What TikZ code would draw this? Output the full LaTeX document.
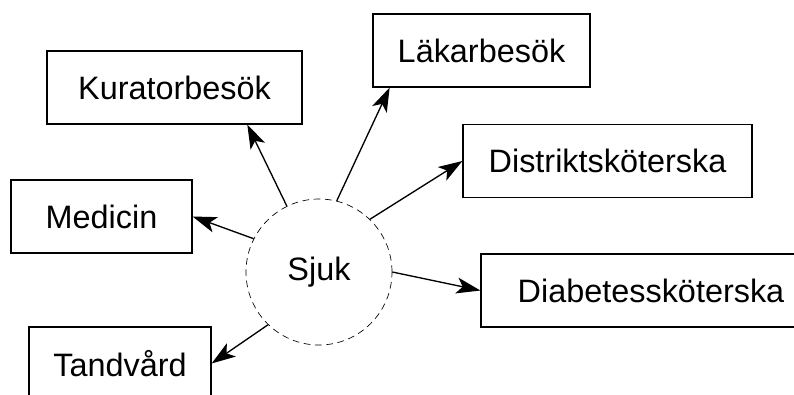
\documentclass[tikz,border=0pt]{standalone}
\usepackage{fontspec}
\setmainfont{Liberation Sans}
\usetikzlibrary{arrows.meta}
\begin{document}
\begin{tikzpicture}[x=0.75pt,y=-0.75pt,
  box/.style={draw, line width=0.9pt, minimum height=54.75pt, inner sep=0pt,
    font=\fontsize{24.3}{28}\selectfont},
  hub/.style={draw, circle, dashed, dash pattern=on 5pt off 3.5pt, line width=0.5pt,
    minimum size=109.5pt, inner sep=0pt, font=\fontsize{24.3}{28}\selectfont},
  link/.style={line width=1pt, -{Stealth[length=18pt, width=12pt, inset=4.5pt]}}]
  \useasboundingbox (0,0) rectangle (794,394);
  \clip (0,0) rectangle (794,394);

  % central state
  \node[hub] (sjuk) at (319,272) {Sjuk};

  % destinations
  \node[box, minimum width=162.75pt] (lak) at (481.5,50.5) {Läkarbesök};
  \node[box, minimum width=191.25pt] (kur) at (174.5,87.5) {Kuratorbesök};
  \node[box, minimum width=135.75pt] (med) at (101.5,216.5) {Medicin};
  \node[box, minimum width=216.75pt] (dis) at (607.5,161) {Distriktsköterska};
  \node[box, minimum width=255pt]    (dia) at (651,290.5) {Diabetessköterska};
  \node[box, minimum width=136.5pt]  (tan) at (120,363.5) {Tandvård};

  % connectors
  \draw[link] (sjuk.76)  -- (lak.-158);
  \draw[link] (sjuk.116) -- (kur.-27);
  \draw[link] (sjuk.153) -- (med.east);
  \draw[link] (sjuk.46)  -- (dis.west);
  \draw[link] (sjuk.0)   -- (dia.west);
  \draw[link] (sjuk.226) -- (tan.east);
\end{tikzpicture}
\end{document}
